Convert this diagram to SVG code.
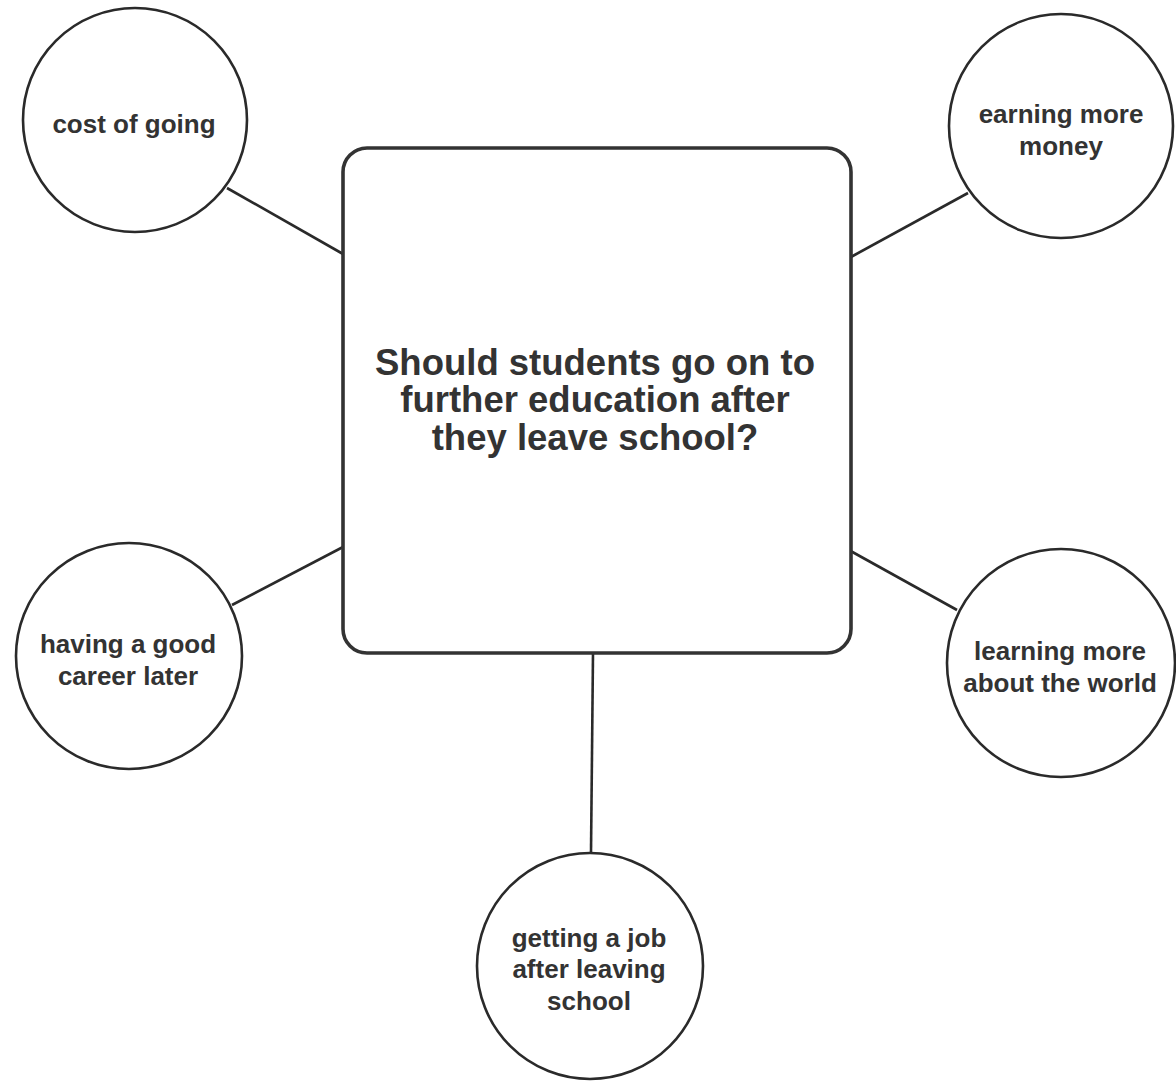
<svg xmlns="http://www.w3.org/2000/svg" width="1176" height="1081" viewBox="0 0 1176 1081">
<style>
.node{fill:#fff;stroke:#2a2a2a;stroke-width:2.6}
.hub{fill:#fff;stroke:#333;stroke-width:3.6}
.edge{stroke:#2a2a2a;stroke-width:2.6;fill:none}
.lbl{font-family:"Liberation Sans",Arial,sans-serif;font-weight:bold;font-size:26px;fill:#333;text-anchor:middle}
.title{font-family:"Liberation Sans",Arial,sans-serif;font-weight:bold;font-size:36.5px;fill:#333;text-anchor:middle}
</style>
<rect width="1176" height="1081" fill="#fff"/>
<g id="connectors">
<line class="edge" x1="227" y1="188" x2="343" y2="254"/>
<line class="edge" x1="968" y1="193" x2="851" y2="257"/>
<line class="edge" x1="232" y1="605" x2="343" y2="547"/>
<line class="edge" x1="847" y1="549" x2="957" y2="610"/>
<line class="edge" x1="593" y1="653" x2="591" y2="853"/>
</g>
<g id="center">
<rect class="hub" x="343" y="148" width="508" height="505" rx="24"/>
<text class="title" x="595" y="375">Should students go on to</text>
<text class="title" x="595" y="412">further education after</text>
<text class="title" x="595" y="450">they leave school?</text>
</g>
<g id="cost">
<circle class="node" cx="135" cy="120" r="112"/>
<text class="lbl" x="134" y="133">cost of going</text>
</g>
<g id="earning">
<circle class="node" cx="1061" cy="126" r="112"/>
<text class="lbl" x="1061" y="123">earning more</text>
<text class="lbl" x="1061" y="155">money</text>
</g>
<g id="career">
<circle class="node" cx="129" cy="656" r="113"/>
<text class="lbl" x="128" y="653">having a good</text>
<text class="lbl" x="128" y="685">career later</text>
</g>
<g id="learning">
<circle class="node" cx="1061" cy="663" r="114"/>
<text class="lbl" x="1060" y="660">learning more</text>
<text class="lbl" x="1060" y="692">about the world</text>
</g>
<g id="job">
<circle class="node" cx="590" cy="966" r="113"/>
<text class="lbl" x="589" y="947">getting a job</text>
<text class="lbl" x="589" y="978">after leaving</text>
<text class="lbl" x="589" y="1010">school</text>
</g>
</svg>
